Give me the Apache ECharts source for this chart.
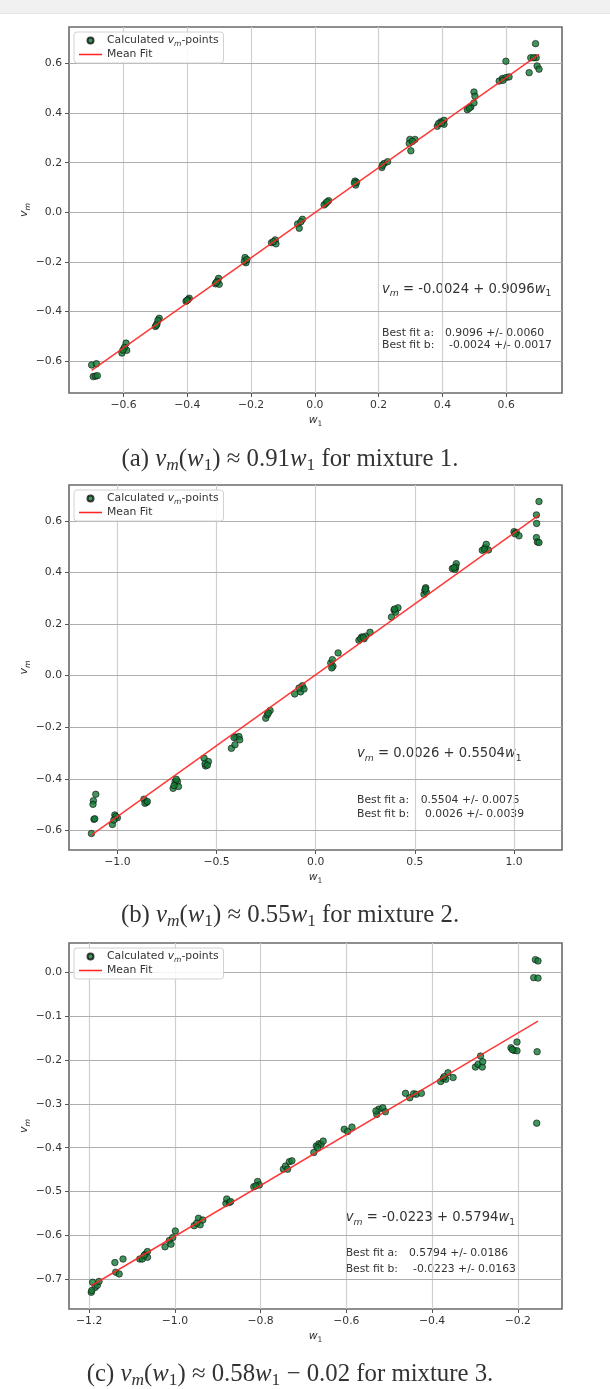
<!DOCTYPE html>
<html>
<head>
<meta charset="utf-8">
<script src="https://cdn.jsdelivr.net/npm/echarts@6/dist/echarts.min.js"></script>
<style>
  html, body { margin: 0; padding: 0; background: #fff; }
  #chart { width: 610px; height: 1389px; }
</style>
</head>
<body>
<div id="chart"></div>
<script>
// mixture 1: calculated v_m points [w1, vm]
const pts1 = [
  [-0.700, -0.615], [-0.685, -0.610], [-0.695, -0.662], [-0.688, -0.660], [-0.682, -0.658],
  [-0.605, -0.567], [-0.590, -0.556], [-0.592, -0.527], [-0.597, -0.544], [-0.602, -0.555],
  [-0.500, -0.460], [-0.488, -0.427], [-0.495, -0.449], [-0.492, -0.435], [-0.497, -0.455],
  [-0.404, -0.358], [-0.394, -0.346], [-0.398, -0.352], [-0.401, -0.355],
  [-0.312, -0.288], [-0.302, -0.266], [-0.300, -0.290], [-0.306, -0.278], [-0.309, -0.283],
  [-0.219, -0.182], [-0.216, -0.203], [-0.221, -0.197], [-0.213, -0.190],
  [-0.136, -0.122], [-0.124, -0.111], [-0.122, -0.127], [-0.130, -0.118],
  [-0.054, -0.047], [-0.039, -0.028], [-0.049, -0.064], [-0.044, -0.038],
  [0.034, 0.036], [0.043, 0.047], [0.029, 0.030], [0.038, 0.042],
  [0.126, 0.126], [0.128, 0.110], [0.131, 0.121], [0.124, 0.118],
  [0.210, 0.181], [0.217, 0.197], [0.228, 0.204], [0.212, 0.190],
  [0.298, 0.294], [0.314, 0.294], [0.301, 0.248], [0.296, 0.278], [0.306, 0.286],
  [0.384, 0.347], [0.395, 0.365], [0.405, 0.371], [0.388, 0.358], [0.405, 0.355], [0.398, 0.360],
  [0.478, 0.414], [0.489, 0.425], [0.499, 0.485], [0.502, 0.468], [0.499, 0.441], [0.484, 0.420],
  [0.578, 0.529], [0.588, 0.539], [0.599, 0.543], [0.609, 0.546], [0.599, 0.609], [0.590, 0.532],
  [0.672, 0.563], [0.677, 0.623], [0.692, 0.680], [0.694, 0.623], [0.697, 0.590], [0.703, 0.577], [0.686, 0.623]
];
const fit1 = [[-0.700, -0.637], [0.703, 0.637]];

// mixture 2
const pts2 = [
  [-1.131, -0.612], [-1.109, -0.460], [-1.121, -0.485], [-1.123, -0.499], [-1.118, -0.557], [-1.114, -0.555],
  [-1.025, -0.577], [-1.013, -0.540], [-1.000, -0.551], [-1.008, -0.546], [-1.018, -0.560],
  [-0.866, -0.479], [-0.854, -0.492], [-0.861, -0.495], [-0.849, -0.488],
  [-0.719, -0.437], [-0.709, -0.411], [-0.697, -0.411], [-0.692, -0.430], [-0.714, -0.426], [-0.703, -0.402],
  [-0.563, -0.320], [-0.555, -0.350], [-0.541, -0.333], [-0.558, -0.342], [-0.546, -0.347],
  [-0.425, -0.282], [-0.407, -0.268], [-0.403, -0.238], [-0.387, -0.236], [-0.383, -0.249], [-0.412, -0.240],
  [-0.252, -0.165], [-0.244, -0.152], [-0.230, -0.135], [-0.239, -0.145],
  [-0.106, -0.071], [-0.076, -0.063], [-0.067, -0.039], [-0.059, -0.052], [-0.084, -0.048],
  [0.076, 0.049], [0.084, 0.062], [0.087, 0.036], [0.081, 0.030], [0.113, 0.088],
  [0.218, 0.137], [0.232, 0.150], [0.244, 0.143], [0.252, 0.153], [0.274, 0.168], [0.227, 0.143], [0.240, 0.148],
  [0.382, 0.227], [0.395, 0.254], [0.403, 0.246], [0.415, 0.263], [0.398, 0.258],
  [0.546, 0.315], [0.551, 0.331], [0.555, 0.341], [0.558, 0.324], [0.553, 0.336],
  [0.689, 0.415], [0.703, 0.412], [0.709, 0.434], [0.706, 0.421], [0.697, 0.418],
  [0.840, 0.486], [0.854, 0.496], [0.860, 0.509], [0.871, 0.487], [0.850, 0.490],
  [1.000, 0.558], [1.012, 0.555], [1.025, 0.542], [1.005, 0.550],
  [1.126, 0.675], [1.113, 0.623], [1.114, 0.590], [1.113, 0.535], [1.118, 0.518], [1.126, 0.516]
];
const fit2 = [[-1.131, -0.618], [1.126, 0.622]];

// mixture 3
const pts3 = [
  [-1.195, -0.730], [-1.192, -0.707], [-1.186, -0.719], [-1.181, -0.714], [-1.177, -0.705], [-1.194, -0.726],
  [-1.140, -0.662], [-1.138, -0.684], [-1.130, -0.688], [-1.121, -0.654],
  [-1.082, -0.654], [-1.076, -0.654], [-1.069, -0.643], [-1.064, -0.637], [-1.064, -0.650], [-1.072, -0.646],
  [-1.023, -0.626], [-1.013, -0.612], [-1.009, -0.620], [-1.005, -0.605], [-0.999, -0.590],
  [-0.955, -0.578], [-0.945, -0.561], [-0.941, -0.576], [-0.935, -0.565], [-0.949, -0.572],
  [-0.881, -0.527], [-0.879, -0.517], [-0.873, -0.525], [-0.870, -0.523],
  [-0.816, -0.489], [-0.807, -0.477], [-0.803, -0.485], [-0.811, -0.487],
  [-0.747, -0.449], [-0.742, -0.442], [-0.737, -0.449], [-0.733, -0.432], [-0.727, -0.430],
  [-0.676, -0.411], [-0.670, -0.396], [-0.664, -0.391], [-0.659, -0.392], [-0.654, -0.385], [-0.667, -0.400],
  [-0.605, -0.358], [-0.597, -0.363], [-0.587, -0.353],
  [-0.529, -0.324], [-0.524, -0.312], [-0.515, -0.309], [-0.509, -0.318], [-0.531, -0.316],
  [-0.462, -0.276], [-0.452, -0.286], [-0.443, -0.277], [-0.437, -0.278], [-0.425, -0.276],
  [-0.380, -0.249], [-0.374, -0.242], [-0.368, -0.244], [-0.363, -0.229], [-0.351, -0.240], [-0.372, -0.238],
  [-0.299, -0.216], [-0.293, -0.210], [-0.287, -0.191], [-0.283, -0.216], [-0.282, -0.204],
  [-0.216, -0.172], [-0.209, -0.178], [-0.202, -0.179], [-0.202, -0.159], [-0.213, -0.176],
  [-0.159, 0.029], [-0.153, 0.026], [-0.163, -0.012], [-0.153, -0.013], [-0.155, -0.181], [-0.156, -0.344]
];
const fit3 = [[-1.195, -0.715], [-0.153, -0.111]];

// axis extents and tick values
const xRange1 = [-0.771, 0.775], yRange1 = [-0.728, 0.747];
const xRange2 = [-1.244, 1.242], yRange2 = [-0.676, 0.739];
const xRange3 = [-1.247, -0.097], yRange3 = [-0.768, 0.067];
const xTicks1 = [-0.6, -0.4, -0.2, 0.0, 0.2, 0.4, 0.6];
const yTicks1 = [-0.6, -0.4, -0.2, 0.0, 0.2, 0.4, 0.6];
const xTicks2 = [-1.0, -0.5, 0.0, 0.5, 1.0];
const yTicks2 = [-0.6, -0.4, -0.2, 0.0, 0.2, 0.4, 0.6];
const xTicks3 = [-1.2, -1.0, -0.8, -0.6, -0.4, -0.2];
const yTicks3 = [-0.7, -0.6, -0.5, -0.4, -0.3, -0.2, -0.1, 0.0];

const fitA = ["0.9096 +/- 0.0060", "0.5504 +/- 0.0075", "0.5794 +/- 0.0186"];
const fitB = ["-0.0024 +/- 0.0017", "0.0026 +/- 0.0039", "-0.0223 +/- 0.0163"];
const eqText = ["-0.0024 + 0.9096", "0.0026 + 0.5504", "-0.0223 + 0.5794"];

const FONT = "DejaVu Sans";
const SERIF = "Liberation Serif";
const TXT = "#333";

function subRich(size, lh, family) {
  family = family || FONT;
  return {
    n: { fontFamily: family, fontSize: size, lineHeight: lh, color: TXT },
    i: { fontFamily: family, fontSize: size, lineHeight: lh, color: TXT, fontStyle: "italic" },
    s: { fontFamily: family, fontSize: size * 0.7, lineHeight: size * 0.7, color: TXT, fontStyle: "italic", verticalAlign: "bottom" },
    u: { fontFamily: family, fontSize: size * 0.7, lineHeight: size * 0.7, color: TXT, verticalAlign: "bottom" }
  };
}

function fmt(v) {
  return (v < -1e-9 ? "\u2212" : "") + Math.abs(v).toFixed(1);
}

function xAxis(idx, range, ticks) {
  return {
    type: "value", gridIndex: idx, min: range[0], max: range[1],
    name: "{i|w}{u|1}", nameLocation: "middle", nameGap: 20, nameMoveOverlap: false,
    nameTextStyle: { rich: subRich(10.8, 15) },
    axisLine: { show: false, onZero: false },
    axisTick: { show: true, length: 4, customValues: ticks, lineStyle: { color: "#555" } },
    axisLabel: { customValues: ticks, formatter: fmt, fontFamily: FONT, fontSize: 10.8, color: TXT, margin: 7 },
    splitLine: { show: false }
  };
}

function yAxis(idx, range, ticks) {
  return {
    type: "value", gridIndex: idx, min: range[0], max: range[1],
    name: "{i|v}{s|m}", nameLocation: "middle", nameGap: 37, nameRotate: 90, nameMoveOverlap: false,
    nameTextStyle: { rich: subRich(11, 15) },
    axisLine: { show: false, onZero: false },
    axisTick: { show: true, length: 4, customValues: ticks, lineStyle: { color: "#555" } },
    axisLabel: { customValues: ticks, formatter: fmt, fontFamily: FONT, fontSize: 10.8, color: TXT, margin: 7 },
    splitLine: { show: false }
  };
}

const SCATTER_NAME = "Calculated vm-points";
const FIT_NAME = "Mean Fit";

// grid lines at the tick values, drawn through the axes as mark lines
function gridLines(idx, xt, yt) {
  return {
    type: "line", xAxisIndex: idx, yAxisIndex: idx, data: [], silent: true, z: 1,
    markLine: {
      silent: true, z: 1, symbol: ["none", "none"], animation: false,
      label: { show: false }, emphasis: { disabled: true },
      data: xt.map(v => ({ xAxis: v, lineStyle: { color: "#d0d0d0", width: 1.2, type: "solid" } }))
        .concat(yt.map(v => ({ yAxis: v, lineStyle: { color: "#adadad", width: 1, type: "solid" } })))
    }
  };
}

function scatter(idx, data) {
  return {
    type: "scatter", name: SCATTER_NAME, xAxisIndex: idx, yAxisIndex: idx, data: data,
    symbolSize: 6.5, silent: true,
    itemStyle: { color: "#0f7a33", borderColor: "#111", borderWidth: 0.8 }, z: 2
  };
}

function fitLine(idx, data) {
  return {
    type: "line", name: FIT_NAME, xAxisIndex: idx, yAxisIndex: idx, data: data,
    symbol: "none", color: "#ff2424", silent: true,
    lineStyle: { color: "#ff2424", width: 1.5, opacity: 0.9 }, z: 3
  };
}

function legend(top) {
  return {
    left: 74, top: top, orient: "vertical", align: "left",
    itemWidth: 23, itemHeight: 6, itemGap: 1, padding: [3, 5, 3, 5],
    backgroundColor: "rgba(255,255,255,0.85)", borderColor: "#d2d2d2", borderWidth: 1, borderRadius: 3,
    selectedMode: false,
    data: [
      { name: SCATTER_NAME, icon: "circle" },
      { name: FIT_NAME, icon: "path://M0,0H24V1.6H0Z", itemStyle: { borderWidth: 0 } }
    ],
    formatter: function (name) {
      if (name === FIT_NAME) return "{n|Mean Fit}";
      return "{n|Calculated }{i|v}{s|m}{n|-points}";
    },
    textStyle: { rich: subRich(10.8, 15) }
  };
}

function richText(x, y, text, rich, align) {
  return {
    type: "text", x: x, y: y, silent: true,
    style: { text: text, rich: rich, align: align || "left", verticalAlign: "middle", fill: TXT }
  };
}

function annotations(k, x, yEq, yA, yB, xA, xB) {
  const r = subRich(10.8, 14);
  return [
    richText(x, yEq, "{i|v}{s|m}{n| = " + eqText[k] + "}{i|w}{u|1}", subRich(13.2, 18)),
    richText(x, yA, "{n|Best fit a:}", r),
    richText(xA, yA, "{n|" + fitA[k] + "}", r),
    richText(x, yB, "{n|Best fit b:}", r),
    richText(xB, yB, "{n|" + fitB[k] + "}", r)
  ];
}

const capRich = subRich(24.8, 30, SERIF);

const gridBox = { show: true, borderColor: "#6a6a6a", borderWidth: 1.6, backgroundColor: "transparent" };

const chart = echarts.init(document.getElementById("chart"), null, { renderer: "canvas" });
chart.setOption({
  backgroundColor: "#fff",
  animation: false,
  grid: [
    Object.assign({ left: 69, top: 27, width: 493, height: 366 }, gridBox),
    Object.assign({ left: 69, top: 485, width: 493, height: 365 }, gridBox),
    Object.assign({ left: 69, top: 943, width: 493, height: 366 }, gridBox)
  ],
  xAxis: [xAxis(0, xRange1, xTicks1), xAxis(1, xRange2, xTicks2), xAxis(2, xRange3, xTicks3)],
  yAxis: [yAxis(0, yRange1, yTicks1), yAxis(1, yRange2, yTicks2), yAxis(2, yRange3, yTicks3)],
  legend: [legend(32), legend(490), legend(948)],
  series: [
    gridLines(0, xTicks1, yTicks1), scatter(0, pts1), fitLine(0, fit1),
    gridLines(1, xTicks2, yTicks2), scatter(1, pts2), fitLine(1, fit2),
    gridLines(2, xTicks3, yTicks3), scatter(2, pts3), fitLine(2, fit3)
  ],
  graphic: [
    { type: "rect", shape: { x: 0, y: 0, width: 610, height: 13 }, style: { fill: "#f1f1f1" }, silent: true },
    { type: "rect", shape: { x: 0, y: 13, width: 610, height: 1 }, style: { fill: "#e6e6e6" }, silent: true },
    ...annotations(0, 382, 289.5, 333, 345.3, 445, 449),
    ...annotations(1, 357, 754, 800.3, 813.7, 420.7, 425),
    ...annotations(2, 345.7, 1218, 1253.3, 1269, 409, 413),
    richText(290, 459, "{n|(a) }{i|v}{s|m}{n|(}{i|w}{u|1}{n|) \u2248 0.91}{i|w}{u|1}{n| for mixture 1.}", capRich, "center"),
    richText(290, 915, "{n|(b) }{i|v}{s|m}{n|(}{i|w}{u|1}{n|) \u2248 0.55}{i|w}{u|1}{n| for mixture 2.}", capRich, "center"),
    richText(290, 1374, "{n|(c) }{i|v}{s|m}{n|(}{i|w}{u|1}{n|) \u2248 0.58}{i|w}{u|1}{n| \u2212 0.02 for mixture 3.}", capRich, "center")
  ]
});
</script>
</body>
</html>
